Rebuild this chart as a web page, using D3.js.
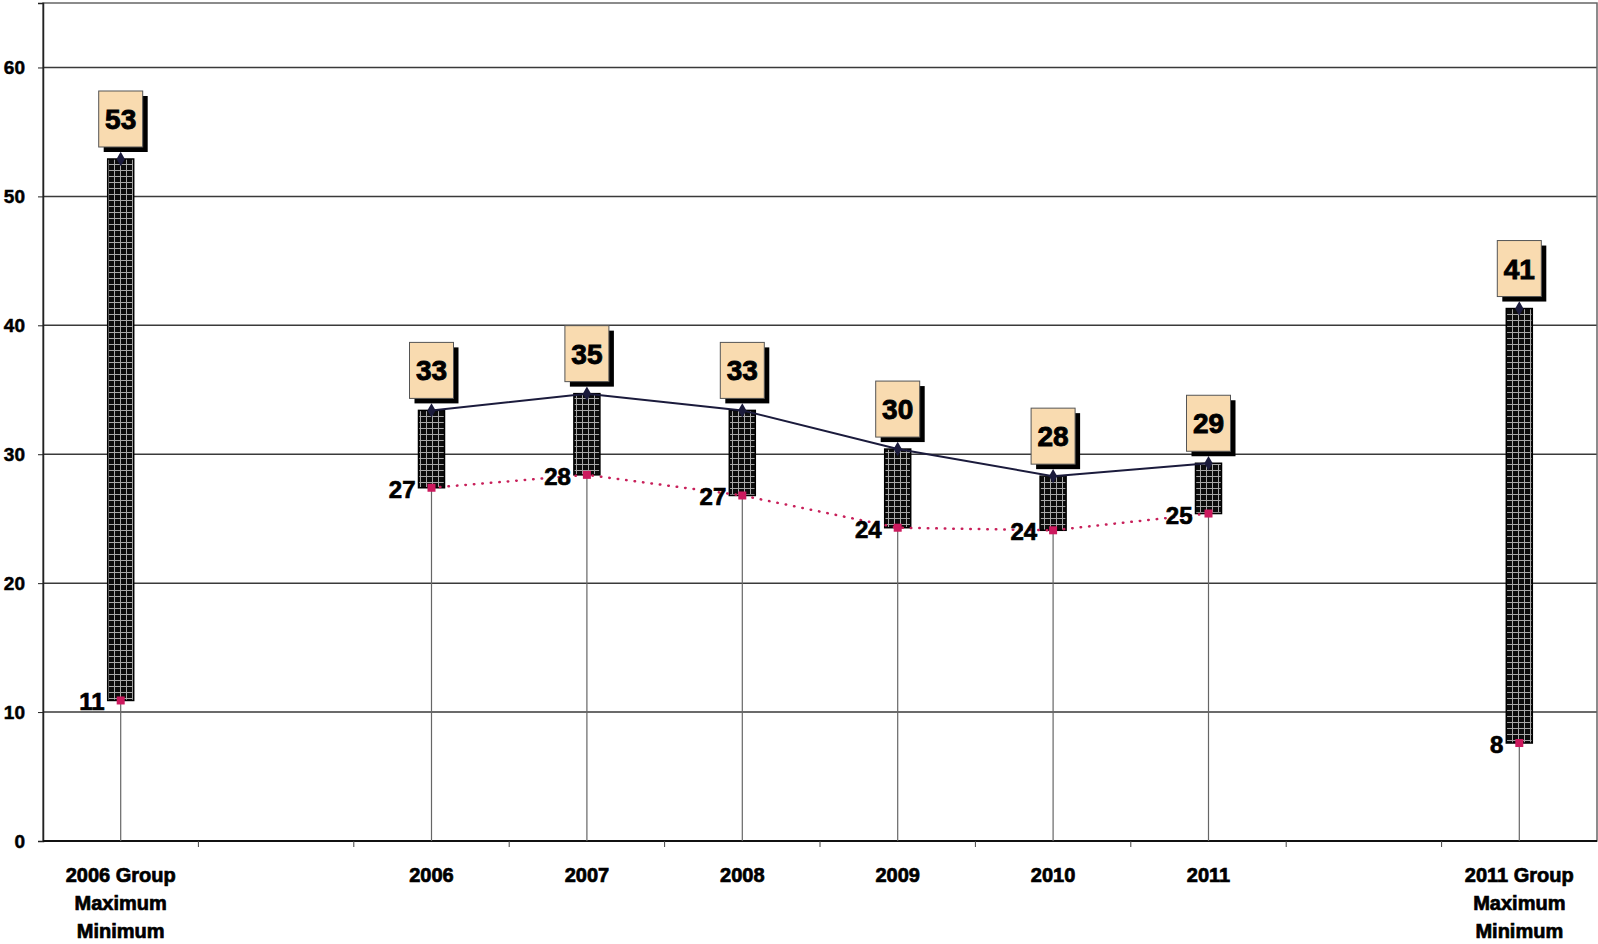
<!DOCTYPE html>
<html>
<head>
<meta charset="utf-8">
<script src="https://cdn.jsdelivr.net/npm/d3@7"></script>
<style>
  body { margin:0; background:#fff; }
  text { font-family: "Liberation Sans", Arial, sans-serif; font-weight:bold; }
</style>
</head>
<body>
<div id="vis-container"></div>
<script>
//data
let categories = ["2006 Group|Maximum|Minimum", "gap1", "2006", "2007", "2008", "2009", "2010", "2011", "gap2", "2011 Group|Maximum|Minimum"];
let maxValues = [52.9, null, 33.4, 34.7, 33.4, 30.4, 28.3, 29.3, null, 41.3];
let minValues = [10.9, null, 27.4, 28.4, 26.8, 24.3, 24.1, 25.4, null, 7.6];
let yTicks = [0, 10, 20, 30, 40, 50, 60];
//which categories belong to the yearly series (joined by lines)
let yearIdx = [2, 3, 4, 5, 6, 7];

//margin convention
let margin = {top:3, right:1, bottom:103, left:43};
let width = 1598 - margin.left - margin.right;
let height = 944 - margin.top - margin.bottom;

let svg = d3.select("#vis-container")
  .append("svg")
  .attr("width", 1598)
  .attr("height", 944);

//checkered fill of the bars
let defs = svg.append("defs");
let pat = defs.append("pattern")
  .attr("id", "check")
  .attr("patternUnits", "userSpaceOnUse")
  .attr("width", 6)
  .attr("height", 6);
pat.append("rect").attr("width", 6).attr("height", 6).attr("fill", "#0c0c0c");
pat.append("line").attr("x1", 5.5).attr("x2", 5.5).attr("y1", 0).attr("y2", 6)
  .attr("stroke", "#a8a8a8").attr("stroke-width", 1);
pat.append("line").attr("x1", 0).attr("x2", 6).attr("y1", 5.5).attr("y2", 5.5)
  .attr("stroke", "#a8a8a8").attr("stroke-width", 1);

let g = svg.append("g")
  .attr("transform", `translate(${margin.left}, ${margin.top})`);

//scales
let x = d3.scaleBand()
  .domain(categories)
  .range([0, width])
  .padding(0);

let y = d3.scaleLinear()
  .domain([0, 65])
  .range([height, 0]);

let cx = i => x(categories[i]) + x.bandwidth()/2;

//gridlines
g.append("g")
  .selectAll("line")
  .data(yTicks.filter(d=>d>0))
  .enter()
  .append("line")
    .attr("x1", 0)
    .attr("x2", width)
    .attr("y1", d=>y(d))
    .attr("y2", d=>y(d))
    .attr("stroke", "#3a3a3a")
    .attr("stroke-width", 1.5);

//plot frame
g.append("rect")
  .attr("x", 0)
  .attr("y", 0)
  .attr("width", width)
  .attr("height", height)
  .attr("fill", "none")
  .attr("stroke", "#666")
  .attr("stroke-width", 1.5);

//y axis
let yAxis = d3.axisLeft(y)
  .tickValues(yTicks)
  .tickSize(5)
  .tickPadding(13);
let yAxisGroup = g.append("g").call(yAxis);
yAxisGroup.select(".domain").attr("stroke", "#222").attr("stroke-width", 1.5);
yAxisGroup.selectAll("line").attr("stroke", "#222");
yAxisGroup.selectAll("text")
  .attr("font-size", "19px")
  .attr("font-family", "'Liberation Sans', Arial, sans-serif")
  .attr("font-weight", "bold")
  .attr("stroke", "#000")
  .attr("stroke-width", 0.5)
  .attr("fill", "#000");

//x axis: ticks on category boundaries
let bounds = d3.range(1, categories.length).map(i=>x(categories[i]));
let xAxisGroup = g.append("g")
  .attr("transform", `translate(0,${height})`);
xAxisGroup.append("line")
  .attr("x1", 0).attr("x2", width)
  .attr("stroke", "#111").attr("stroke-width", 2);
xAxisGroup.selectAll(".tick")
  .data(bounds)
  .enter()
  .append("line")
    .attr("x1", d=>d).attr("x2", d=>d)
    .attr("y1", 0).attr("y2", 6)
    .attr("stroke", "#444");

//category labels (multi line)
let labels = xAxisGroup.selectAll(".cat")
  .data(categories.map((c,i)=>({c:c, i:i})).filter(d=>!d.c.startsWith("gap")))
  .enter()
  .append("text")
    .attr("class", "cat")
    .attr("text-anchor", "middle")
    .attr("font-size", "20px")
    .attr("stroke", "#000")
    .attr("stroke-width", 0.7)
    .attr("transform", d=>`translate(${cx(d.i)},0)`);
labels.selectAll("tspan")
  .data(d=>d.c.split("|"))
  .enter()
  .append("tspan")
    .attr("x", 0)
    .attr("y", (d,j)=>41 + j*28)
    .text(d=>d);

let pts = d3.range(categories.length).filter(i=>maxValues[i] != null);

//drop lines from the low point to the axis
g.selectAll(".drop")
  .data(pts)
  .enter()
  .append("line")
    .attr("x1", cx).attr("x2", cx)
    .attr("y1", i=>y(minValues[i]))
    .attr("y2", height)
    .attr("stroke", "#666")
    .attr("stroke-width", 1.2);

//high-low bars
g.selectAll(".bar")
  .data(pts)
  .enter()
  .append("rect")
    .attr("x", i=>cx(i) - 13)
    .attr("y", i=>y(maxValues[i]))
    .attr("width", 26)
    .attr("height", i=>y(minValues[i]) - y(maxValues[i]))
    .attr("fill", "url(#check)")
    .attr("stroke", "#000")
    .attr("stroke-width", 1.5);

//lines through the yearly max and min
let maxLine = d3.line().x(i=>cx(i)).y(i=>y(maxValues[i]));
let minLine = d3.line().x(i=>cx(i)).y(i=>y(minValues[i]));

g.append("path")
  .attr("d", maxLine(yearIdx))
  .attr("fill", "none")
  .attr("stroke", "#1b1b3c")
  .attr("stroke-width", 2);

g.append("path")
  .attr("d", minLine(yearIdx))
  .attr("fill", "none")
  .attr("stroke", "#c8205a")
  .attr("stroke-width", 2.5)
  .attr("stroke-linecap", "round")
  .attr("stroke-dasharray", "0.5,8");

//max markers (diamonds)
g.selectAll(".maxm")
  .data(pts)
  .enter()
  .append("path")
    .attr("d", d3.symbol().type(d3.symbolDiamond).size(60))
    .attr("transform", i=>`translate(${cx(i)},${y(maxValues[i])})`)
    .attr("fill", "#1b1b3c");

//min markers (squares)
g.selectAll(".minm")
  .data(pts)
  .enter()
  .append("rect")
    .attr("x", i=>cx(i) - 4)
    .attr("y", i=>y(minValues[i]) - 4)
    .attr("width", 8)
    .attr("height", 8)
    .attr("fill", "#cc1a5e");

//boxed max labels with shadow
let boxes = g.selectAll(".box")
  .data(pts)
  .enter()
  .append("g")
    .attr("transform", i=>`translate(${cx(i) - 22},${y(maxValues[i]) - 68})`);
boxes.append("rect")
  .attr("x", 5).attr("y", 5)
  .attr("width", 44).attr("height", 56)
  .attr("fill", "#000");
boxes.append("rect")
  .attr("width", 44).attr("height", 56)
  .attr("fill", "#f9dbb0")
  .attr("stroke", "#555")
  .attr("stroke-width", 1);
boxes.append("text")
  .attr("x", 22)
  .attr("y", 38)
  .attr("text-anchor", "middle")
  .attr("font-size", "28px")
  .attr("stroke", "#000")
  .attr("stroke-width", 0.9)
  .text(i=>Math.round(maxValues[i]));

//min labels
g.selectAll(".minl")
  .data(pts)
  .enter()
  .append("text")
    .attr("x", i=>cx(i) - 16)
    .attr("y", i=>y(minValues[i]) + 10)
    .attr("text-anchor", "end")
    .attr("font-size", "24px")
    .attr("stroke", "#000")
    .attr("stroke-width", 0.7)
    .text(i=>Math.round(minValues[i]));
</script>
</body>
</html>
